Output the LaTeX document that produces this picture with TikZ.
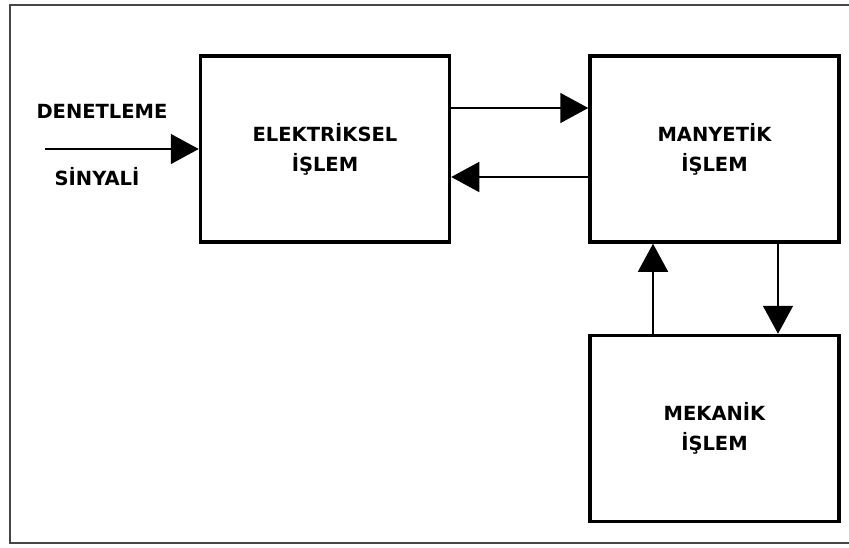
\documentclass[tikz,border=0pt]{standalone}
\usepackage{fontspec}
\setmainfont{DejaVu Sans}
\usetikzlibrary{
  arrows.meta,
  positioning
}
\definecolor{framegray}{RGB}{70,70,70}
\tikzset{
  block/.style={
    rectangle, draw=black, line width=3.5pt, fill=white,
    minimum width=249pt, minimum height=186pt,
    align=center, font=\fontsize{19.5pt}{30pt}\selectfont\bfseries
  },
  lbl/.style={
    inner sep=0pt, font=\fontsize{19.5pt}{23pt}\selectfont\bfseries
  },
  arrow/.style={-{Triangle[length=28pt,width=30pt]}, line width=1.5pt, color=black},
  outerframe/.style={draw=framegray, line width=2pt}
}

\begin{document}
\begin{tikzpicture}[x=1pt, y=-1pt]
  \path[use as bounding box] (0,0) rectangle (849,547);
  \draw[outerframe] (10,4.5) rectangle (880,543);

  \node[block] (elec) at (325,149) {ELEKTRİKSEL\\İŞLEM};
  \node[block, right=137pt of elec] (mag) {MANYETİK\\İŞLEM};
  \node[block, below=90pt of mag] (mech) {MEKANİK\\İŞLEM};

  \coordinate (in) at (45,149);
  \node[lbl] (ctl) at (102,111) {DENETLEME};
  \node[lbl] (sig) at (97,177) {SİNYALİ};

  \draw[arrow] (in) -- (elec.west);
  \draw[arrow] ([yshift=41pt]elec.east) -- ([yshift=41pt]mag.west);
  \draw[arrow] ([yshift=-28pt]mag.west) -- ([yshift=-28pt]elec.east);
  \draw[arrow] ([xshift=-61.5pt]mech.north) -- ([xshift=-61.5pt]mag.south);
  \draw[arrow] ([xshift=63.5pt]mag.south) -- ([xshift=63.5pt]mech.north);
\end{tikzpicture}
\end{document}
